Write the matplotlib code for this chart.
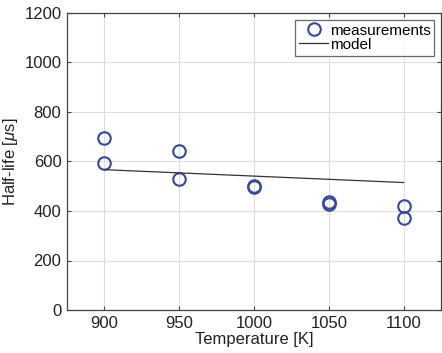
import matplotlib
matplotlib.use("Agg")
import matplotlib.pyplot as plt

plt.rcParams['font.family'] = ['Liberation Sans', 'DejaVu Sans']
plt.rcParams['mathtext.fontset'] = 'custom'
plt.rcParams['mathtext.it'] = 'Liberation Sans:italic'
plt.rcParams['mathtext.rm'] = 'Liberation Sans'

meas_T = [900, 900, 950, 950, 1000, 1000, 1050, 1050, 1100, 1100]
meas_hl = [695, 593, 644, 530, 503, 498, 436, 430, 420, 373]
model_T = [900, 950, 1000, 1050, 1100]
model_hl = [567, 554, 541, 528, 515]
xticks = [900, 950, 1000, 1050, 1100]
yticks = [0, 200, 400, 600, 800, 1000, 1200]

fig = plt.figure(figsize=(4.42, 3.53), dpi=100)
ax = fig.add_axes([67/442, 43/353, 374/442, 297/353])

ax.plot(meas_T, meas_hl, linestyle='none', marker='o', markersize=9,
        markerfacecolor='none', markeredgecolor='#34489c', markeredgewidth=1.5,
        label='measurements')
ax.plot(model_T, model_hl, color='#333333', linewidth=0.9, label='model')

ax.set_xlim(875, 1125)
ax.set_ylim(0, 1200)
ax.set_xticks(xticks)
ax.set_yticks(yticks)
ax.grid(True, color='#dddddd', linewidth=0.8)
ax.set_axisbelow(True)
ax.tick_params(direction='in', top=True, right=True, labelsize=12, length=3,
               color='#444444', pad=4, labelcolor='#222222')
for s in ax.spines.values():
    s.set_color('#444444')
    s.set_linewidth(0.9)
ax.set_xlabel('Temperature [K]', fontsize=12, labelpad=1, color='#222222')
ax.set_ylabel('Half-life [$\\mu$s]', fontsize=12, labelpad=3, color='#222222')

leg = ax.legend(loc='upper right', fontsize=11, frameon=True, fancybox=False,
                edgecolor='#444444', borderpad=0.25, labelspacing=0.0,
                handlelength=1.9, handletextpad=0.1, borderaxespad=0.45)
leg.get_frame().set_linewidth(0.9)

fig.savefig('out.png', dpi=100)
